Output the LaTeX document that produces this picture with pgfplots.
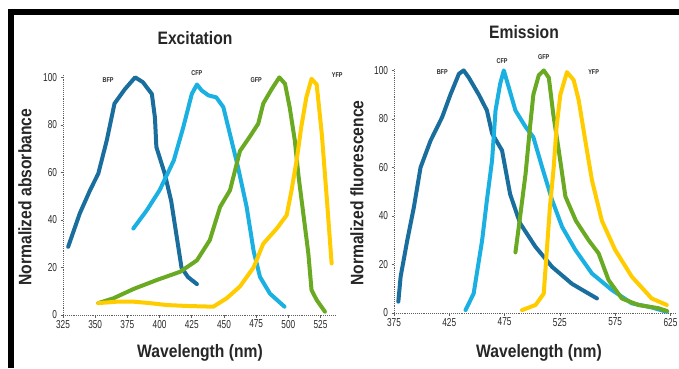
\documentclass[border=0pt]{standalone}
\usepackage{pgfplots}
\pgfplotsset{compat=1.18}
\usepackage{fontspec}
\setmainfont{Liberation Sans}
\newfontfamily\narrowfont{Liberation Sans}[FakeStretch=0.72]
\newfontfamily\labfont{Liberation Sans}[FakeStretch=0.87]
\newfontfamily\tinyfont{Liberation Sans}[FakeStretch=0.78]
\definecolor{bfp}{HTML}{1A6E9E}
\definecolor{cfp}{HTML}{1BB0E2}
\definecolor{gfp}{HTML}{6AAA22}
\definecolor{yfp}{HTML}{FFCC00}
\definecolor{axgray}{HTML}{606060}
\definecolor{txtgray}{HTML}{2A2A2A}
\tikzset{lab/.style={font=\tinyfont\bfseries\fontsize{7}{7}\selectfont, text=txtgray}}
\pgfplotsset{
  spec/.style={
    scale only axis,
    axis x line=bottom, axis y line=left,
    axis line style={axgray, line width=0.9pt, densely dotted, -},
    ymin=0, ymax=101,
    ytick={0,20,40,60,80,100},
    tick style={axgray, line width=0.6pt},
    major tick length=2.5pt,
    tick align=outside,
    /pgf/number format/assume math mode=true,
    tick label style={font=\narrowfont\fontsize{11.5}{11.5}\selectfont, text=txtgray},
    xticklabel style={yshift=1pt},
    clip=false,
    every axis plot/.append style={line width=4pt, line join=round, line cap=round, no marks},
  },
}
\begin{document}
\begin{tikzpicture}[x=1pt,y=1pt]
\path[use as bounding box] (0,0) rectangle (679,368);
\fill[white] (0,0) rectangle (679,368);
\fill[black] (8,353) rectangle (679,359);
\fill[black] (8,0) rectangle (14,359);

% ---------------- Excitation ----------------
\begin{axis}[spec, at={(63pt,53pt)}, anchor=south west,
  width=273pt, height=240pt,
  xmin=325, xmax=537,
  xtick={325,350,375,400,425,450,475,500,525}]
\addplot[bfp] coordinates {
(329,28.7)(338,42.7)(346,52.5)(352.4,59.5)(359,73.5)(365,89)(373,95)(381,100)
(387,98)(394,93)(396.4,83)(397.5,70.7)(404,59.5)(409,48)(413,34)(417,20)(422,16)(429,13)};
\addplot[cfp] coordinates {
(379.6,36.4)(390,44)(400,52.5)(411,65)(418.4,79)(425,93)(429,97)(432.7,94.5)
(438,92.4)(444,91.6)(449.5,87.5)(454.7,76)(461,62)(467.6,45.5)(473,27)(478,16)
(485.7,9)(497,3.5)};
\addplot[gfp] coordinates {
(352.4,5)(364,7)(380,11)(397.7,14.7)(416,18.2)(429,23)(439,31.5)(447,45.5)
(454.7,52.5)(462.4,69)(470,75)(476.6,80.5)(480.5,89)(487,95)(493,100)(497.4,97.3)
(501,87.5)(505,73.5)(508,58)(511.6,42.7)(515.5,26)(518,10.5)(522,6.3)(528.4,1.4)};
\addplot[yfp] coordinates {
(352.4,5)(366.7,5.6)(380,5.6)(392.5,5)(405.5,4.2)(421,3.8)(441.7,3.5)(452,7)
(462.4,12)(473,20)(480.5,30)(491,36.4)(498.7,42)(502.5,52.5)(506.4,65)(510,79)
(514,91.7)(518,99.4)(522,97)(526,76)(530,48)(533.6,21.7)};
\node[lab] at (axis cs:360,98.7) {BFP};
\node[lab] at (axis cs:429,102) {CFP};
\node[lab] at (axis cs:475,98.7) {GFP};
\node[lab] at (axis cs:538,101) {YFP};
\end{axis}

% ---------------- Emission ----------------
\begin{axis}[spec, at={(394pt,55pt)}, anchor=south west,
  width=282pt, height=245pt,
  xmin=375, xmax=630,
  xtick={375,425,475,525,575,625}]
\addplot[bfp] coordinates {
(378.9,4.7)(381,15)(387,30)(393,43.7)(399,60)(408,71)(418.6,80.8)(426,90)
(433.7,98.6)(438,100)(442.7,97)(451.7,90)(459,83.5)(463.7,74)(472.7,67)(480,49)
(489,37)(502.9,27.3)(518,19)(536,12)(558.5,6)};
\addplot[cfp] coordinates {
(439.7,1.2)(447,8)(454.7,30)(459,46.5)(463.7,63)(466.8,83.5)(471,94.5)(474.3,100)
(478.8,93)(484.8,83.5)(494,76.7)(501,72.5)(509,60)(518,46.5)(527,35.5)(539,26)
(554,16.3)(572,9.5)(590,4)(608,2.3)(621.7,0.5)};
\addplot[gfp] coordinates {
(484.8,25)(489,39.6)(494,57.5)(498,76.7)(501,90)(505.9,98)(510.4,100)(515,97)
(519,82)(524,67)(530,48)(539.5,38)(551,30)(560,24.6)(569,13.6)(581,6)(596,3.3)
(614,2)(622,0.8)};
\addplot[yfp] coordinates {
(490.8,1.2)(503,3.3)(510.4,8)(513,24.6)(516,43.7)(519.4,60)(522,76.7)(525.4,90)
(531.4,99.3)(537.5,96)(542,87.7)(548,71)(554,54.7)(563,38)(575,26)(590,15)
(608,6)(621.7,3.3)};
\node[lab] at (axis cs:418.6,99.3) {BFP};
\node[lab] at (axis cs:472.7,104) {CFP};
\node[lab] at (axis cs:510.4,105.5) {GFP};
\node[lab] at (axis cs:555.5,99.3) {YFP};
\end{axis}

% titles and axis labels
\tikzset{big/.style={font=\labfont\bfseries\fontsize{18}{18}\selectfont, text=black!85}}
\node[big] at (195,330) {Excitation};
\node[big] at (524,336) {Emission};
\node[big] at (200,15) {Wavelength (nm)};
\node[big] at (539,15) {Wavelength (nm)};
\node[big, rotate=90] at (25,171) {Normalized absorbance};
\node[big, rotate=90] at (357,175) {Normalized fluorescence};
\end{tikzpicture}
\end{document}
